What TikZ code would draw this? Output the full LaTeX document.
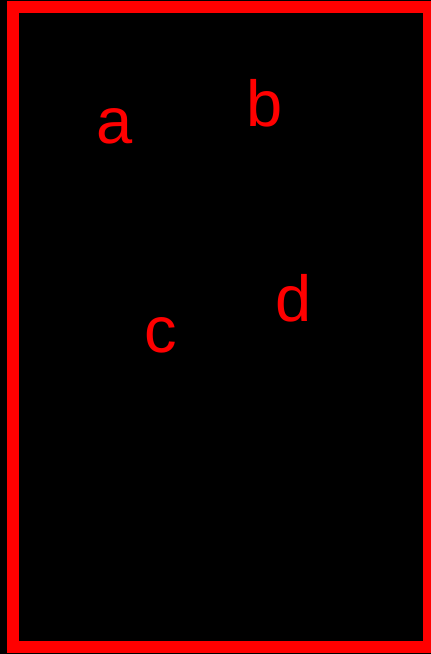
\documentclass[tikz,border=0pt]{standalone}
\usepackage{fontspec}
\setmainfont{Liberation Sans}
\begin{document}
\begin{tikzpicture}[x=1pt,y=1pt,
  lbl/.style={text=red,font=\fontsize{65}{65}\selectfont,inner sep=0pt,anchor=base}]
\fill[black] (0,0) rectangle (431,654);
\useasboundingbox (0,0) rectangle (431,654);
\draw[red,line width=12pt] (13,7) rectangle (429,647);
\node[lbl] (a) at (115,510) {a};
\node[lbl] (b) at (265,527) {b};
\node[lbl] (c) at (161,301) {c};
\node[lbl] (d) at (294,332) {d};
\end{tikzpicture}
\end{document}
